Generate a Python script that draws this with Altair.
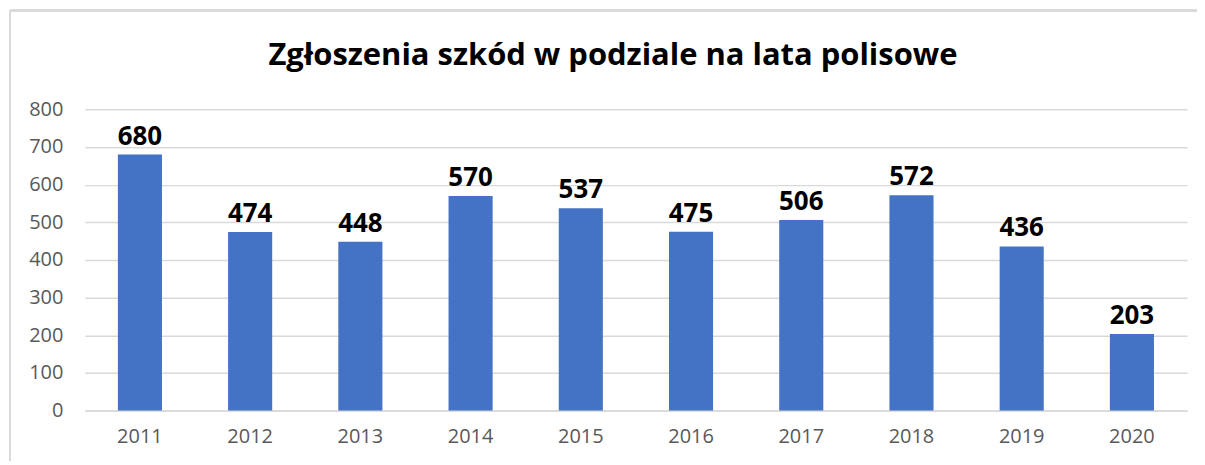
import altair as alt
import pandas as pd

years = ["2011", "2012", "2013", "2014", "2015", "2016", "2017", "2018", "2019", "2020"]
claims = [680, 474, 448, 570, 537, 475, 506, 572, 436, 203]
title_text = "Zgłoszenia szkód w podziale na lata polisowe"

df = pd.DataFrame({"year": years, "claims": claims})

FONT = "Open Sans"
W, H = 1105, 302
PL, PT = 77, 101

x = alt.X("year:N", sort=years, title=None,
          scale=alt.Scale(paddingInner=0.6, paddingOuter=0.3))
y = alt.Y("claims:Q", title=None, scale=alt.Scale(domain=[0, 800]),
          axis=alt.Axis(values=[0, 100, 200, 300, 400, 500, 600, 700, 800]))

bars = alt.Chart(df).mark_bar(color="#4472C4").encode(x=x, y=y)
labels = alt.Chart(df).mark_text(dy=-10, baseline="alphabetic", fontSize=26,
                                 fontWeight="bold", font=FONT, color="black").encode(
    x=x, y=y, text="claims:Q")

border_top = alt.Chart(df).mark_rule(stroke="#d9d9d9", strokeWidth=1.5).encode(
    x=alt.value(-75), x2=alt.value(W + 80), y=alt.value(-99))
border_left = alt.Chart(df).mark_rule(stroke="#d9d9d9", strokeWidth=1.5).encode(
    x=alt.value(-75), y=alt.value(-99), y2=alt.value(H + 80))

chart = alt.layer(border_top, border_left, bars, labels).properties(
    width=W, height=H,
    autosize=alt.AutoSizeParams(type="none"),
    padding={"left": PL, "top": PT, "right": 10, "bottom": 50},
    title=alt.TitleParams(title_text, fontSize=31, fontWeight="bold", font=FONT,
                          color="black", anchor="middle", baseline="alphabetic",
                          frame="group", offset=0, dy=86, dx=-23),
).configure_view(stroke=None).configure_axisX(
    labelAngle=0, labelFontSize=20, labelColor="#595959", labelFont=FONT,
    ticks=False, domainColor="#d9d9d9", domainWidth=1.5, labelPadding=16, grid=False
).configure_axisY(
    labelFontSize=20, labelColor="#595959", labelFont=FONT, ticks=False,
    domain=False, gridColor="#d9d9d9", gridWidth=1.5, labelPadding=22
)

chart.save("out.html", embed_options={"renderer": "svg", "actions": False})
